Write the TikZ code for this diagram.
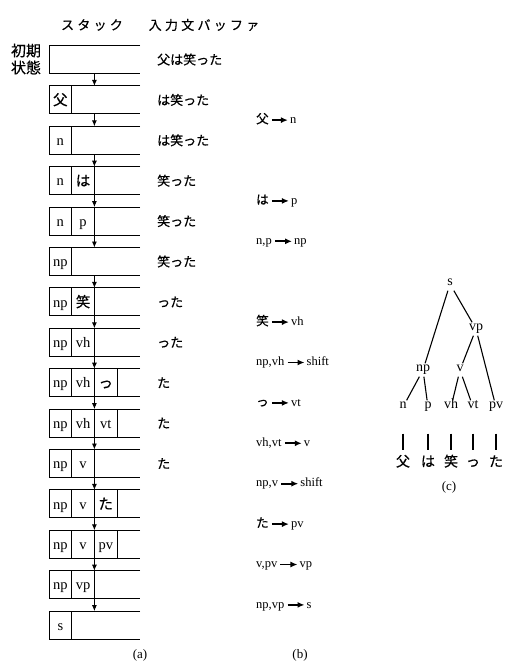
\documentclass[tikz,border=0pt]{standalone}
\usepackage{fontspec}
\setmainfont{Liberation Serif}
\newfontfamily\jp{Noto Sans CJK JP}[FakeBold=0.5]
\newfontfamily\jphead{Noto Sans CJK JP}[LetterSpace=25, FakeBold=0.5]
\usetikzlibrary{positioning, arrows.meta}

\begin{document}
\begin{tikzpicture}[x=1pt, y=-1pt,
  stk/.style={minimum width=91pt, minimum height=28pt, inner sep=0pt, outer sep=0pt},
  box/.style={line width=1pt},
  cell/.style={draw, line width=1pt, minimum width=22.7pt, minimum height=28pt,
               inner sep=0pt, outer sep=0pt, text height=12.5pt, text depth=2pt,
               font=\fontsize{14.5}{14.5}\selectfont},
  buf/.style={anchor=west, inner sep=0pt, font=\jp\fontsize{13}{13}\selectfont},
  sarr/.style={-{Latex[length=6pt,width=5pt]}, line width=0.9pt},
  rul/.style={inner sep=1pt, text height=9pt, text depth=2.5pt, font=\fontsize{12.5}{12.5}\selectfont},
  rarr/.style={-{Latex[length=7pt,width=6pt]}, line width=1.8pt, shorten <=2pt, shorten >=1pt},
  tn/.style={inner sep=2pt, text height=6pt, text depth=3pt, font=\fontsize{14}{14}\selectfont},
  tl/.style={inner sep=1pt, text height=11pt, text depth=2pt, font=\jp\fontsize{14}{14}\selectfont},
  tedge/.style={line width=1.1pt},
  leg/.style={shorten <=20pt, shorten >=4pt, line width=1.1pt},
  capt/.style={font=\fontsize{13}{13}\selectfont}
]
  \useasboundingbox (0,0) rectangle (507,664);

  % headers
  \node[font=\jphead\fontsize{13}{13}\selectfont] (hs) at (92,25) {スタック};
  \node[font=\jphead\fontsize{13}{13}\selectfont] (hb) at (204,25) {入力文バッファ};
  \node[font=\jp\fontsize{15}{17}\selectfont, align=center] (init) at (26,59) {初期\\状態};
  \coordinate (ax) at (94.4,0);

  % (a) stack
  \node[stk] (r0) at (94.5,59.5) {};
  \draw[box] (r0.north east) -| (r0.south west) -- (r0.south east);
  \node[buf, right=17pt of r0] (t0) {父は笑った};

  \node[stk] (r1) at (94.5,99.9) {};
  \draw[box] (r1.north east) -| (r1.south west) -- (r1.south east);
  \node[cell, anchor=west] (c1a) at (r1.west) {\jp 父};
  \node[buf, right=17pt of r1] (t1) {は笑った};
  \draw[sarr] (ax |- r0.south) -- (ax |- r1.north);

  \node[stk] (r2) at (94.5,140.3) {};
  \draw[box] (r2.north east) -| (r2.south west) -- (r2.south east);
  \node[cell, anchor=west] (c2a) at (r2.west) {n};
  \node[buf, right=17pt of r2] (t2) {は笑った};
  \draw[sarr] (ax |- r1.south) -- (ax |- r2.north);

  \node[stk] (r3) at (94.5,180.7) {};
  \draw[box] (r3.north east) -| (r3.south west) -- (r3.south east);
  \node[cell, anchor=west] (c3a) at (r3.west) {n};
  \node[cell, right=0pt of c3a] (c3b) {\jp は};
  \node[buf, right=17pt of r3] (t3) {笑った};
  \draw[sarr] (ax |- r2.south) -- (ax |- r3.north);

  \node[stk] (r4) at (94.5,221.1) {};
  \draw[box] (r4.north east) -| (r4.south west) -- (r4.south east);
  \node[cell, anchor=west] (c4a) at (r4.west) {n};
  \node[cell, right=0pt of c4a] (c4b) {p};
  \node[buf, right=17pt of r4] (t4) {笑った};
  \draw[sarr] (ax |- r3.south) -- (ax |- r4.north);

  \node[stk] (r5) at (94.5,261.5) {};
  \draw[box] (r5.north east) -| (r5.south west) -- (r5.south east);
  \node[cell, anchor=west] (c5a) at (r5.west) {np};
  \node[buf, right=17pt of r5] (t5) {笑った};
  \draw[sarr] (ax |- r4.south) -- (ax |- r5.north);

  \node[stk] (r6) at (94.5,301.9) {};
  \draw[box] (r6.north east) -| (r6.south west) -- (r6.south east);
  \node[cell, anchor=west] (c6a) at (r6.west) {np};
  \node[cell, right=0pt of c6a] (c6b) {\jp 笑};
  \node[buf, right=17pt of r6] (t6) {った};
  \draw[sarr] (ax |- r5.south) -- (ax |- r6.north);

  \node[stk] (r7) at (94.5,342.3) {};
  \draw[box] (r7.north east) -| (r7.south west) -- (r7.south east);
  \node[cell, anchor=west] (c7a) at (r7.west) {np};
  \node[cell, right=0pt of c7a] (c7b) {vh};
  \node[buf, right=17pt of r7] (t7) {った};
  \draw[sarr] (ax |- r6.south) -- (ax |- r7.north);

  \node[stk] (r8) at (94.5,382.7) {};
  \draw[box] (r8.north east) -| (r8.south west) -- (r8.south east);
  \node[cell, anchor=west] (c8a) at (r8.west) {np};
  \node[cell, right=0pt of c8a] (c8b) {vh};
  \node[cell, right=0pt of c8b] (c8c) {\jp っ};
  \node[buf, right=17pt of r8] (t8) {た};
  \draw[sarr] (ax |- r7.south) -- (ax |- r8.north);

  \node[stk] (r9) at (94.5,423.1) {};
  \draw[box] (r9.north east) -| (r9.south west) -- (r9.south east);
  \node[cell, anchor=west] (c9a) at (r9.west) {np};
  \node[cell, right=0pt of c9a] (c9b) {vh};
  \node[cell, right=0pt of c9b] (c9c) {vt};
  \node[buf, right=17pt of r9] (t9) {た};
  \draw[sarr] (ax |- r8.south) -- (ax |- r9.north);

  \node[stk] (r10) at (94.5,463.5) {};
  \draw[box] (r10.north east) -| (r10.south west) -- (r10.south east);
  \node[cell, anchor=west] (c10a) at (r10.west) {np};
  \node[cell, right=0pt of c10a] (c10b) {v};
  \node[buf, right=17pt of r10] (t10) {た};
  \draw[sarr] (ax |- r9.south) -- (ax |- r10.north);

  \node[stk] (r11) at (94.5,503.9) {};
  \draw[box] (r11.north east) -| (r11.south west) -- (r11.south east);
  \node[cell, anchor=west] (c11a) at (r11.west) {np};
  \node[cell, right=0pt of c11a] (c11b) {v};
  \node[cell, right=0pt of c11b] (c11c) {\jp た};
  \draw[sarr] (ax |- r10.south) -- (ax |- r11.north);

  \node[stk] (r12) at (94.5,544.3) {};
  \draw[box] (r12.north east) -| (r12.south west) -- (r12.south east);
  \node[cell, anchor=west] (c12a) at (r12.west) {np};
  \node[cell, right=0pt of c12a] (c12b) {v};
  \node[cell, right=0pt of c12b] (c12c) {pv};
  \draw[sarr] (ax |- r11.south) -- (ax |- r12.north);

  \node[stk] (r13) at (94.5,584.7) {};
  \draw[box] (r13.north east) -| (r13.south west) -- (r13.south east);
  \node[cell, anchor=west] (c13a) at (r13.west) {np};
  \node[cell, right=0pt of c13a] (c13b) {vp};
  \draw[sarr] (ax |- r12.south) -- (ax |- r13.north);

  \node[stk] (r14) at (94.5,625.1) {};
  \draw[box] (r14.north east) -| (r14.south west) -- (r14.south east);
  \node[cell, anchor=west] (c14a) at (r14.west) {s};
  \draw[sarr] (ax |- r13.south) -- (ax |- r14.north);

  % (b) rules
  \node[rul, anchor=west] (b1) at (255,120.1) {\jp 父};
  \node[rul, right=19pt of b1] (b1r) {n};
  \draw[rarr] (b1) -- (b1r);
  \node[rul, anchor=west] (b2) at (255,200.9) {\jp は};
  \node[rul, right=20pt of b2] (b2r) {p};
  \draw[rarr] (b2) -- (b2r);
  \node[rul, anchor=west] (b3) at (255,241.3) {n,p};
  \node[rul, right=20pt of b3] (b3r) {np};
  \draw[rarr] (b3) -- (b3r);
  \node[rul, anchor=west] (b4) at (255,322.1) {\jp 笑};
  \node[rul, right=20pt of b4] (b4r) {vh};
  \draw[rarr] (b4) -- (b4r);
  \node[rul, anchor=west] (b5) at (255,362.5) {np,vh};
  \node[rul, right=20pt of b5] (b5r) {shift};
  \draw[rarr] (b5) -- (b5r);
  \node[rul, anchor=west] (b6) at (255,402.9) {\jp っ};
  \node[rul, right=20pt of b6] (b6r) {vt};
  \draw[rarr] (b6) -- (b6r);
  \node[rul, anchor=west] (b7) at (255,443.3) {vh,vt};
  \node[rul, right=20pt of b7] (b7r) {v};
  \draw[rarr] (b7) -- (b7r);
  \node[rul, anchor=west] (b8) at (255,483.7) {np,v};
  \node[rul, right=20pt of b8] (b8r) {shift};
  \draw[rarr] (b8) -- (b8r);
  \node[rul, anchor=west] (b9) at (255,524.1) {\jp た};
  \node[rul, right=20pt of b9] (b9r) {pv};
  \draw[rarr] (b9) -- (b9r);
  \node[rul, anchor=west] (b10) at (255,564.5) {v,pv};
  \node[rul, right=20pt of b10] (b10r) {vp};
  \draw[rarr] (b10) -- (b10r);
  \node[rul, anchor=west] (b11) at (255,604.9) {np,vp};
  \node[rul, right=20pt of b11] (b11r) {s};
  \draw[rarr] (b11) -- (b11r);

  % (c) tree
  \node[tn] (s) at (450,284) {s};
  \node[tn] (vp) at (476,329) {vp};
  \node[tn] (np) at (423,370) {np};
  \node[tn] (v) at (460,370) {v};
  \node[tn] (n) at (403,407) {n};
  \node[tn] (p) at (428,407) {p};
  \node[tn] (vh) at (451,407) {vh};
  \node[tn] (vt) at (473,407) {vt};
  \node[tn] (pv) at (496,407) {pv};
  \node[tl] (f1) at (403,462) {父};
  \node[tl] (f2) at (428,462) {は};
  \node[tl] (f3) at (451,462) {笑};
  \node[tl] (f4) at (473,462) {っ};
  \node[tl] (f5) at (496,462) {た};
  \draw[tedge] (s) -- (np);
  \draw[tedge] (s) -- (vp);
  \draw[tedge] (vp) -- (v);
  \draw[tedge] (vp) -- (pv);
  \draw[tedge] (np) -- (n);
  \draw[tedge] (np) -- (p);
  \draw[tedge] (v) -- (vh);
  \draw[tedge] (v) -- (vt);
  \draw[leg] (n) -- (f1);
  \draw[leg] (p) -- (f2);
  \draw[leg] (vh) -- (f3);
  \draw[leg] (vt) -- (f4);
  \draw[leg] (pv) -- (f5);

  % captions
  \node[capt] (capa) at (140,655) {(a)};
  \node[capt] (capb) at (300,655) {(b)};
  \node[capt] (capc) at (449,487) {(c)};
\end{tikzpicture}
\end{document}
